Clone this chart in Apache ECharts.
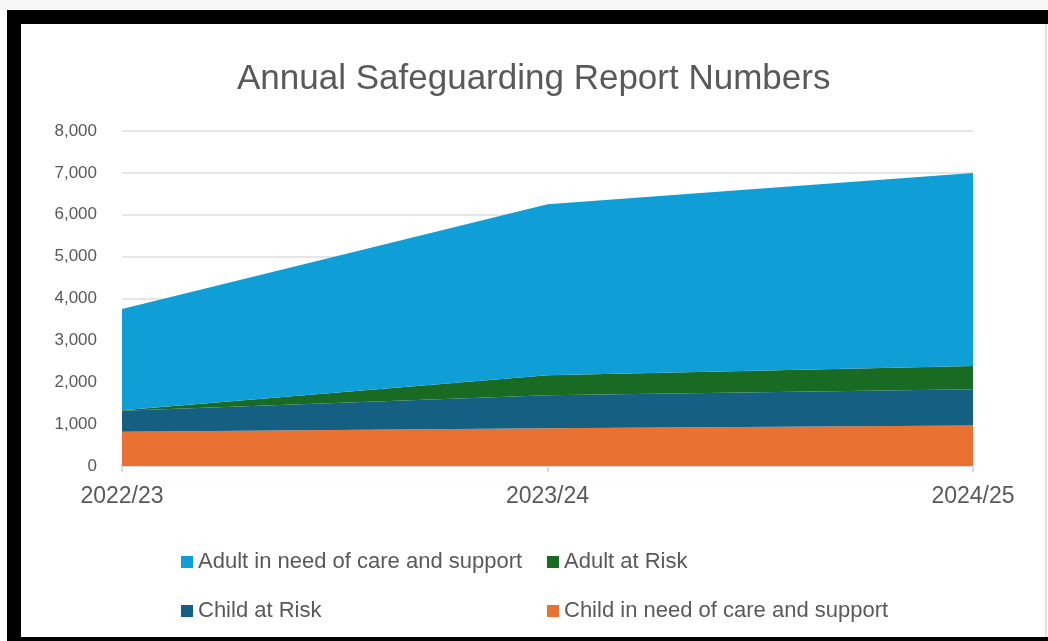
<!DOCTYPE html>
<html>
<head>
<meta charset="utf-8">
<script src="https://cdn.jsdelivr.net/npm/echarts@6/dist/echarts.min.js"></script>
<style>
  html, body { margin: 0; padding: 0; background: #fff; }
  #main { position: absolute; left: 0; top: 0; width: 1048px; height: 641px; }
  .frame { position: absolute; background: #000; z-index: 5; }
  .top-strip { position: absolute; left: 0; top: 0; width: 1048px; height: 10px; background: #f7f7f7; z-index: 5; }
  .right-line { position: absolute; left: 1045px; top: 24px; width: 2px; height: 613px; background: #e4e4e4; z-index: 5; }
</style>
</head>
<body>
<div id="main"></div>
<div class="top-strip"></div>
<div class="frame" style="left:7px;top:10px;width:1041px;height:14px;"></div>
<div class="frame" style="left:7px;top:10px;width:14px;height:631px;"></div>
<div class="frame" style="left:7px;top:637px;width:1041px;height:4px;"></div>
<div class="right-line"></div>
<script>
// 年度数据
const years = ['2022/23', '2023/24', '2024/25']
const childInNeed = [820, 900, 970]
const childAtRisk = [500, 790, 860]
const adultAtRisk = [10, 480, 560]
const adultInNeed = [2420, 4080, 4610]

const chart = echarts.init(document.getElementById('main'))
const font = "'Liberation Sans', sans-serif"

const makeSeries = (name, data, color) => ({
  name: name,
  type: 'line',
  stack: 'total',
  data: data,
  symbol: 'none',
  lineStyle: { width: 0 },
  areaStyle: { color: color, opacity: 1 },
  itemStyle: { color: color }
})

// 每个图例单独定位，做成两行两列
const makeLegend = (name, left, top) => ({
  data: [name],
  left: left,
  top: top,
  itemWidth: 12,
  itemHeight: 12,
  icon: 'rect',
  textStyle: {
    color: '#595959',
    fontSize: 22,
    fontFamily: font
  }
})

const option = {
  animation: false,
  backgroundColor: '#fff',
  title: {
    text: 'Annual Safeguarding Report Numbers',
    left: 232,
    top: 57,
    textStyle: {
      color: '#595959',
      fontSize: 35,
      fontWeight: 'normal',
      fontFamily: font
    }
  },
  legend: [
    makeLegend('Adult in need of care and support', 176, 546),
    makeLegend('Adult at Risk', 542, 546),
    makeLegend('Child at Risk', 176, 595),
    makeLegend('Child in need of care and support', 542, 595)
  ],
  grid: {
    left: 122,
    right: 75,
    top: 131,
    bottom: 175
  },
  xAxis: {
    type: 'category',
    data: years,
    boundaryGap: false,
    axisLine: { lineStyle: { color: '#d9d9d9', width: 2 } },
    axisTick: { show: true, length: 6, lineStyle: { color: '#d9d9d9', width: 2 } },
    axisLabel: {
      color: '#595959',
      fontSize: 23,
      fontFamily: font,
      margin: 19
    }
  },
  yAxis: {
    type: 'value',
    min: 0,
    max: 8000,
    interval: 1000,
    axisLine: { show: false },
    axisTick: { show: false },
    splitLine: { lineStyle: { color: '#e6e6e6', width: 2 } },
    axisLabel: {
      color: '#595959',
      fontSize: 17,
      fontFamily: font,
      margin: 25,
      formatter: v => v.toLocaleString('en-US')
    }
  },
  series: [
    makeSeries('Child in need of care and support', childInNeed, '#E97132'),
    makeSeries('Child at Risk', childAtRisk, '#156082'),
    makeSeries('Adult at Risk', adultAtRisk, '#196B24'),
    makeSeries('Adult in need of care and support', adultInNeed, '#0F9ED5')
  ]
}

chart.setOption(option)
</script>
</body>
</html>
